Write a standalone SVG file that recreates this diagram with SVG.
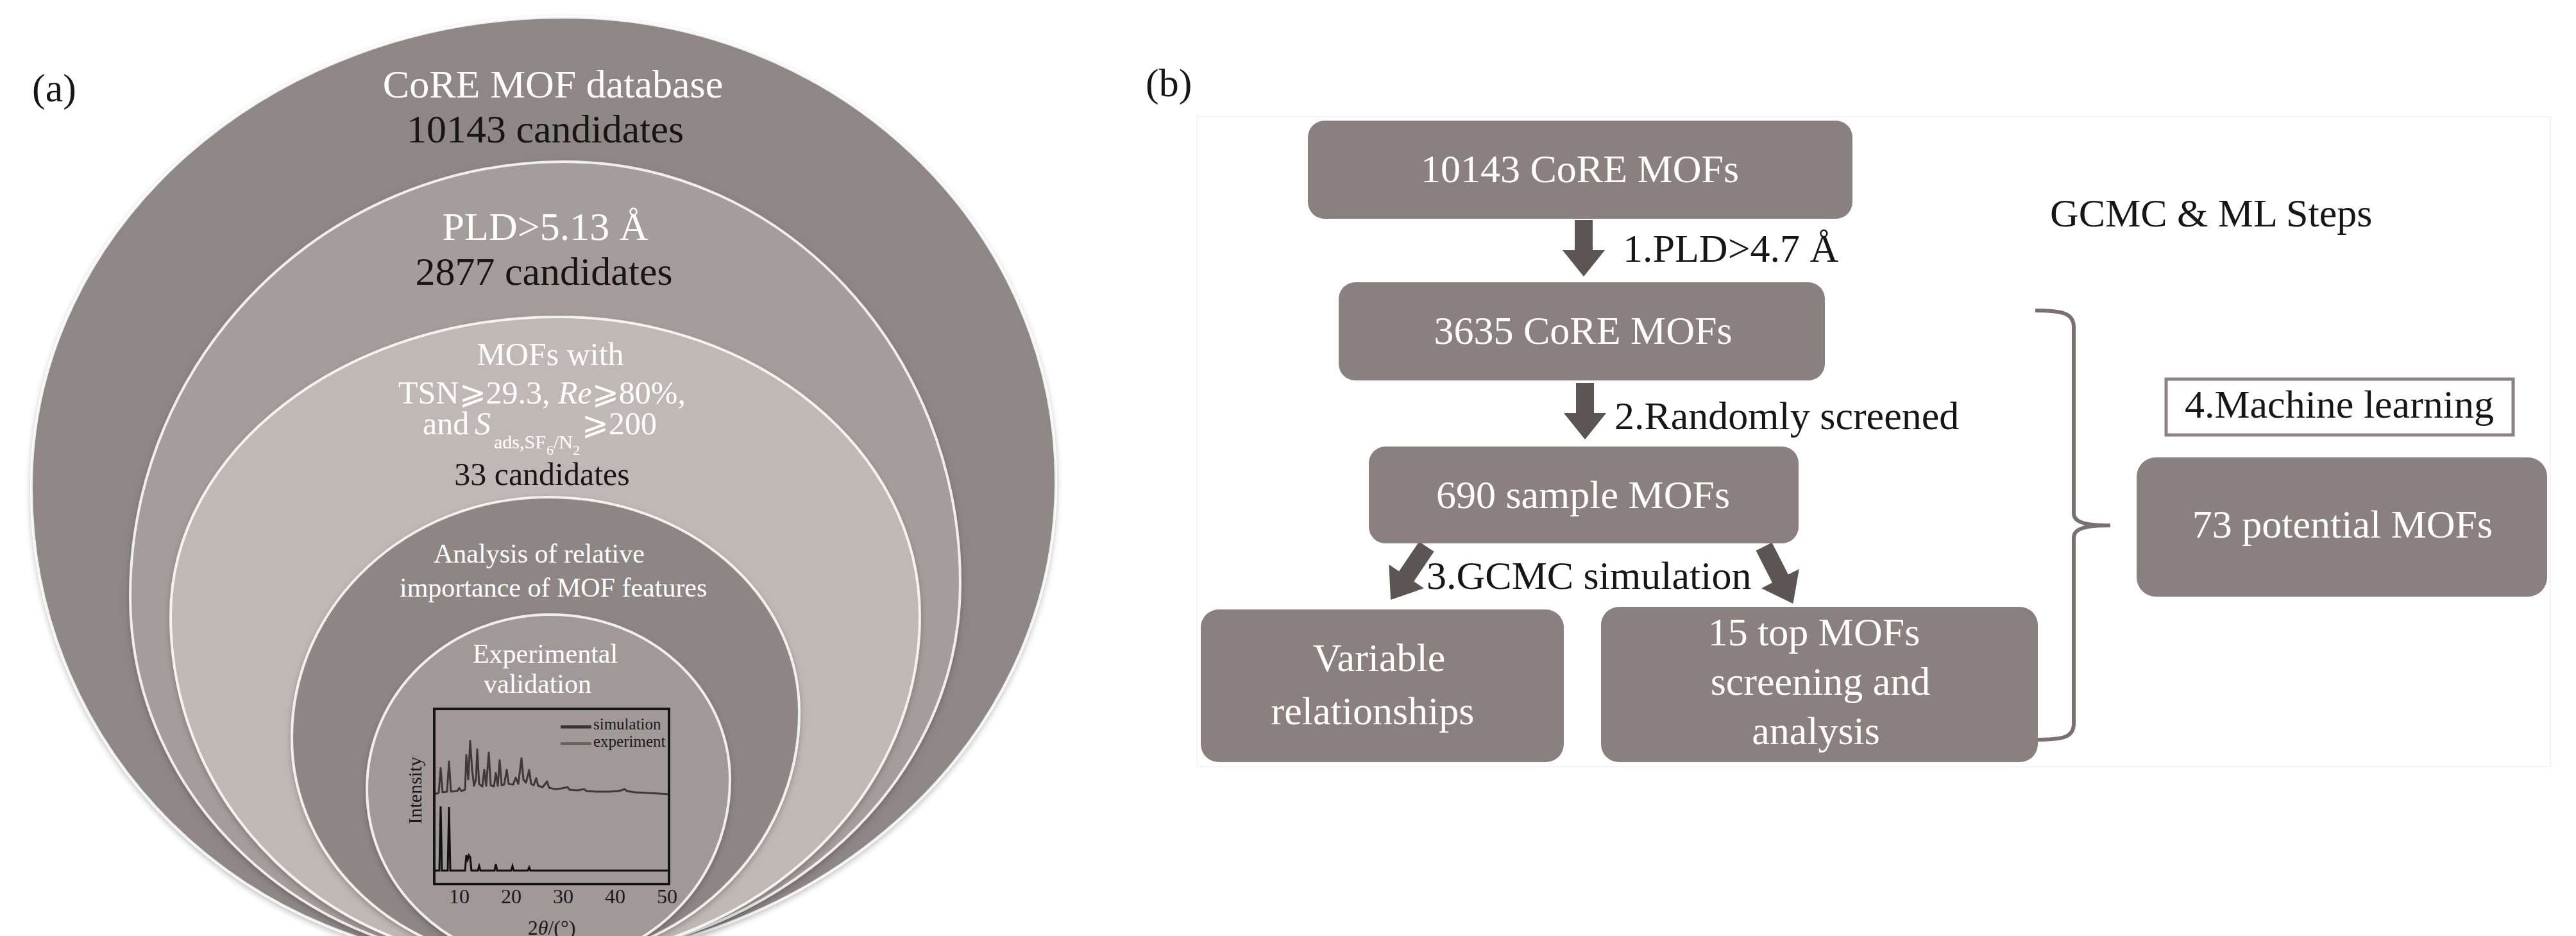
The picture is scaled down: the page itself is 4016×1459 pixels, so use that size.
<svg xmlns="http://www.w3.org/2000/svg" width="4016" height="1459" viewBox="0 0 4016 1459">
<style>
text{font-family:"Liberation Serif","DejaVu Serif",serif}
.w{fill:#ffffff}
.k{fill:#161616}
.box{fill:#8a807f}
.arrow{fill:#5d5554}
.rim{stroke:#ffffff;stroke-opacity:0.85;stroke-width:4}
.t62{font-size:62px}
.t50{font-size:50px}
.t42{font-size:42px}
</style>
<defs>
<filter id="sh" x="-10%" y="-10%" width="120%" height="120%">
<feDropShadow dx="0" dy="4" stdDeviation="5" flood-color="#000" flood-opacity="0.25"/>
</filter>
<polygon id="arr" points="-14,0 14,0 14,47 33,47 0,88 -33,47 -14,47"/>
<polygon id="arrL" points="-14,0 14,0 14,56 33,56 0,100 -33,56 -14,56"/>
</defs>
<rect width="4016" height="1459" fill="#ffffff"/>

<!-- Panel (a) -->
<g id="panel-a">
<text class="k t62" x="50" y="158">(a)</text>
<g id="c1">
<path class="rim" filter="url(#sh)" fill="#8f8786" d="M880,27 C1302,27 1646,351 1646,750 C1646,1164 1267,1500 800,1500 C385,1500 49,1173 49,760 C49,355 418,27 880,27 Z"/>
<text class="w t62" x="862" y="152" text-anchor="middle">CoRE MOF database</text>
<text class="k t62" x="850" y="222" text-anchor="middle">10143 candidates</text>
</g>
<g id="c2">
<path class="rim" filter="url(#sh)" fill="#a59d9b" d="M880,252 C1221,252 1497,547 1497,910 C1497,1236 1189,1500 810,1500 C475,1500 203,1245 203,930 C203,556 506,252 880,252 Z"/>
<text class="w t62" x="850" y="374" text-anchor="middle">PLD&gt;5.13 Å</text>
<text class="k t62" x="848" y="444" text-anchor="middle">2877 candidates</text>
</g>
<g id="c3">
<path class="rim" filter="url(#sh)" fill="#c0b8b5" d="M870,494 C1181,494 1434,703 1434,960 C1434,1258 1159,1500 820,1500 C514,1500 266,1258 266,960 C266,703 536,494 870,494 Z"/>
<text class="w t50" x="858" y="569" text-anchor="middle">MOFs with</text>
<text class="w t50" x="845" y="629" text-anchor="middle">TSN⩾29.3, <tspan font-style="italic">Re</tspan>⩾80%,</text>
<text class="w t50" y="677"><tspan x="659" y="677">and</tspan><tspan x="740" y="677" font-style="italic">S</tspan><tspan x="770" y="699" font-size="30">ads,SF</tspan><tspan x="852" y="709" font-size="22">6</tspan><tspan x="863" y="699" font-size="30">/N</tspan><tspan x="893" y="709" font-size="22">2</tspan><tspan x="907" y="677">⩾200</tspan></text>
<text class="k t50" x="845" y="756" text-anchor="middle">33 candidates</text>
</g>
<g id="c4">
<path class="rim" filter="url(#sh)" fill="#8e8685" d="M855,775 C1071,775 1246,925 1246,1110 C1246,1325 1062,1500 835,1500 C625,1500 455,1343 455,1150 C455,943 634,775 855,775 Z"/>
<text class="w t42" x="676" y="877">Analysis of relative</text>
<text class="w t42" x="623" y="930">importance of MOF features</text>
</g>
<g id="c5">
<path class="rim" filter="url(#sh)" fill="#a19997" d="M858,958 C1013,958 1138,1073 1138,1215 C1138,1374 1011,1502 855,1502 C699,1502 572,1380 572,1230 C572,1080 700,958 858,958 Z"/>
<text class="w t42" x="850" y="1033" text-anchor="middle">Experimental</text>
<text class="w t42" x="838" y="1080" text-anchor="middle">validation</text>
</g>
<g id="xrd-chart">
<path fill="none" stroke="#3f3838" stroke-width="3" stroke-linejoin="round" d="M677,1238 L684,1236 L687,1197 L690,1235 L697,1234 L700,1187 L703,1234 L713,1233 L716,1228 L719,1233 L725,1231 L727,1177 L730,1215 L733,1155 L736,1200 L739,1225 L742,1215 L744,1168 L747,1222 L752,1226 L755,1200 L758,1225 L762,1173 L765,1224 L770,1226 L773,1205 L776,1225 L779,1185 L782,1224 L786,1223 L790,1200 L793,1222 L800,1223 L804,1212 L808,1222 L813,1182 L816,1215 L820,1220 L825,1200 L828,1222 L832,1224 L836,1213 L839,1225 L846,1227 L853,1218 L856,1228 L866,1230 L875,1229 L885,1227 L888,1231 L900,1232 L911,1230 L914,1233 L930,1234 L950,1234 L965,1233 L974,1230 L977,1233 L990,1235 L1010,1236 L1043,1238"/>
<path fill="none" stroke="#111111" stroke-width="3" d="M677,1357 L685,1357 L687,1257 L689,1357 L698,1357 L700,1258 L702,1357 L725,1357 L727,1333 L729,1340 L731,1333 L733,1336 L735,1357 L745,1357 L747,1350 L749,1357 L771,1357 L773,1347 L775,1357 L797,1357 L799,1350 L801,1357 L823,1357 L825,1352 L827,1357 L1043,1357"/>
<rect x="677" y="1105" width="366" height="273" fill="none" stroke="#141414" stroke-width="4"/>
<line x1="874" y1="1133" x2="922" y2="1133" stroke="#3a3333" stroke-width="5"/>
<line x1="874" y1="1159" x2="922" y2="1159" stroke="#6b6262" stroke-width="4"/>
<text x="925" y="1137" font-size="25" fill="#1a1a1a">simulation</text>
<text x="925" y="1164" font-size="25" fill="#1a1a1a">experiment</text>
<text x="0" y="0" font-size="30" fill="#1a1a1a" text-anchor="middle" transform="translate(657,1232) rotate(-90)">Intensity</text>
<g font-size="32" fill="#1a1a1a" text-anchor="middle">
<text x="716" y="1408">10</text>
<text x="797" y="1408">20</text>
<text x="878" y="1408">30</text>
<text x="959" y="1408">40</text>
<text x="1040" y="1408">50</text>
<text x="860" y="1457">2<tspan font-style="italic">θ</tspan>/(°)</text>
</g>
</g>
</g>

<!-- Panel (b) -->
<g id="panel-b">
<rect x="1866" y="182" width="2110" height="1013" fill="none" stroke="#f4f4f4" stroke-width="2"/>
<text class="k t62" x="1786" y="150">(b)</text>
<text id="title-b" class="k t62" x="3196" y="353">GCMC &amp; ML Steps</text>

<g id="connectors">
<use href="#arr" class="arrow" transform="translate(2469,343)"/>
<use href="#arr" class="arrow" transform="translate(2471,597)"/>
<use href="#arrL" class="arrow" transform="translate(2224,852) rotate(34)"/>
<use href="#arrL" class="arrow" transform="translate(2750,852) rotate(-27)"/>
<path d="M3173,484 C3215,484 3233,488 3233,510 L3233,800 C3233,814 3250,819 3290,819 C3250,819 3233,824 3233,838 L3233,1128 C3233,1150 3215,1153 3173,1153" fill="none" stroke="#7a706f" stroke-width="6"/>
<text class="k t62" x="2530" y="408">1.PLD&gt;4.7 Å</text>
<text class="k t62" x="2517" y="669">2.Randomly screened</text>
<text class="k t62" x="2224" y="918">3.GCMC simulation</text>
</g>

<g id="n1">
<rect class="box" x="2039" y="188" width="849" height="153" rx="26"/>
<text class="w t62" x="2463" y="284" text-anchor="middle">10143 CoRE MOFs</text>
</g>
<g id="n2">
<rect class="box" x="2087" y="440" width="758" height="153" rx="26"/>
<text class="w t62" x="2468" y="536" text-anchor="middle">3635 CoRE MOFs</text>
</g>
<g id="n3">
<rect class="box" x="2134" y="696" width="670" height="151" rx="26"/>
<text class="w t62" x="2468" y="792" text-anchor="middle">690 sample MOFs</text>
</g>
<g id="n4">
<rect class="box" x="1872" y="950" width="566" height="238" rx="28"/>
<text class="w t62" x="2150" y="1046" text-anchor="middle">Variable</text>
<text class="w t62" x="2140" y="1129" text-anchor="middle">relationships</text>
</g>
<g id="n5">
<rect class="box" x="2496" y="946" width="681" height="242" rx="28"/>
<text class="w t62" x="2828" y="1006" text-anchor="middle">15 top MOFs</text>
<text class="w t62" x="2838" y="1083" text-anchor="middle">screening and</text>
<text class="w t62" x="2831" y="1160" text-anchor="middle">analysis</text>
</g>
<g id="n6">
<rect x="3377" y="591" width="541" height="87" fill="#ffffff" stroke="#8c8281" stroke-width="5"/>
<text class="k t62" x="3647" y="651" text-anchor="middle">4.Machine learning</text>
</g>
<g id="n7">
<rect class="box" x="3331" y="713" width="640" height="217" rx="30"/>
<text class="w t62" x="3652" y="838" text-anchor="middle">73 potential MOFs</text>
</g>
</g>
</svg>
